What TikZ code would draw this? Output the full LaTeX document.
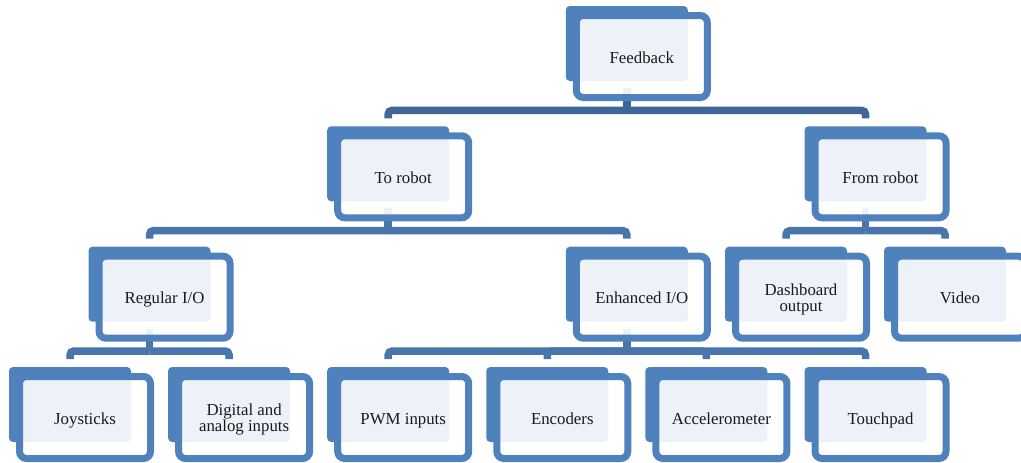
\documentclass[tikz,border=0pt]{standalone}
\usepackage{fontspec}
\setmainfont{Liberation Serif}
\usetikzlibrary{calc,backgrounds}

\definecolor{boxblue}{RGB}{79,129,189}
\definecolor{linkdark}{RGB}{62,102,152}
\definecolor{linkblue}{RGB}{71,117,172}
\definecolor{labelcol}{RGB}{26,26,26}

\newdimen\pxu
\pxu=0.75pt

\tikzset{
  backbox/.style={fill=boxblue, rounded corners=4\pxu, minimum width=122\pxu,
    minimum height=75\pxu, inner sep=0pt, outer sep=0pt, anchor=north west},
  frontbox/.style={draw=boxblue, line width=7\pxu, fill=white, fill opacity=0.9,
    text opacity=1, rounded corners=7\pxu, minimum width=131\pxu,
    minimum height=82\pxu, inner sep=0pt, align=center, text=labelcol,
    font=\fontsize{12.6}{12}\selectfont},
  oneline/.style={text height=9.8pt, text depth=0pt},
  twoline/.style={text height=21.5pt, text depth=0.3pt},
  link/.style={draw=linkblue, line width=7.5\pxu, rounded corners=4\pxu},
  toplink/.style={link, draw=linkdark}
}

% one chart entry: a solid back card and a framed, translucent front card
\newcommand\chartbox[5][oneline]{%
  \node[backbox] (#2) at (#3,#4) {};
  \node[frontbox,#1] (#2f) at ($(#2.north west)+(76,50.5)$) {#5};
}

\begin{document}
\begin{tikzpicture}[x=0.75pt, y=-0.75pt]
\clip (0,0) rectangle (1021,462);

% level 0
\chartbox{fb}{565.8}{6}{Feedback}
% level 1
\chartbox{tr}{327.2}{126.3}{To robot}
\chartbox{fr}{804.5}{126.3}{From robot}
% level 2
\chartbox{reg}{88.5}{246.7}{Regular I/O}
\chartbox{enh}{565.8}{246.7}{Enhanced I/O}
\chartbox[twoline]{dash}{725}{246.7}{Dashboard\\output}
\chartbox{vid}{884}{246.7}{Video}
% level 3
\chartbox{joy}{9}{367}{Joysticks}
\chartbox[twoline]{dig}{168.1}{367}{Digital and\\analog inputs}
\chartbox{pwm}{327.2}{367}{PWM inputs}
\chartbox{enc}{486.3}{367}{Encoders}
\chartbox{acc}{645.4}{367}{Accelerometer}
\chartbox{tch}{804.5}{367}{Touchpad}

\begin{pgfonlayer}{background}
  % stub below each parent, ending at its junction
  \foreach \p in {fb,tr,fr,reg,enh}{
    \coordinate (\p-j) at ($(\p.south)+(0,29.3)$);
  }
  \draw[toplink] ($(fb.south)+(0,7)$) -- (fb-j);
  \foreach \p in {tr,fr,reg,enh}{
    \draw[link] ($(\p.south)+(0,7)$) -- (\p-j);
  }
  % elbows from each junction down to the children
  \foreach \c in {tr,fr}{
    \draw[toplink] (fb-j) -| ($(\c.north)+(0,-8)$);
  }
  \foreach \p/\c in {tr/reg,tr/enh,fr/dash,fr/vid,reg/joy,reg/dig,
                     enh/pwm,enh/enc,enh/acc,enh/tch}{
    \draw[link] (\p-j) -| ($(\c.north)+(0,-8)$);
  }
\end{pgfonlayer}
\end{tikzpicture}
\end{document}
